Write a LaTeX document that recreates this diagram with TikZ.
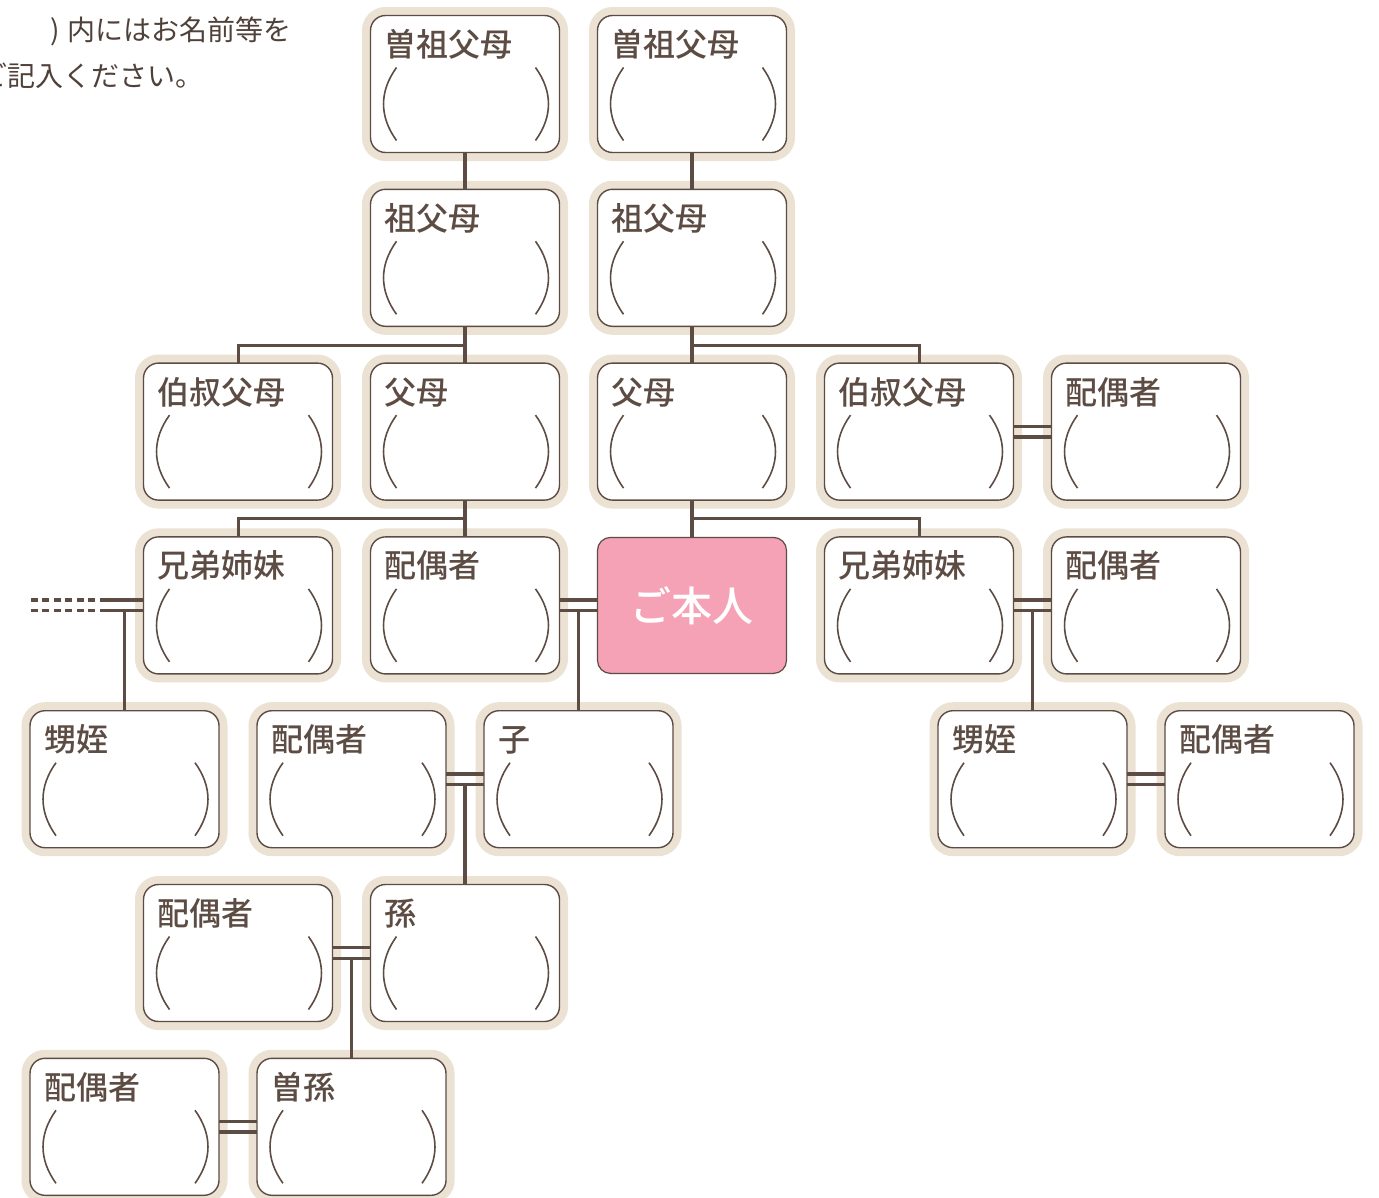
\documentclass[tikz,border=0pt]{standalone}
\usepackage{fontspec}
\setmainfont{Noto Sans CJK JP}
\newfontfamily\jpmedium{Noto Sans CJK JP Medium}
\usepackage{tikz}
\usepackage{xcolor}
\definecolor{treebrown}{RGB}{93,76,67}
\definecolor{ringbeige}{RGB}{235,226,212}
\definecolor{selfpink}{RGB}{245,162,182}
\tikzset{
  member/.style={draw=treebrown, line width=1.4pt, fill=white, rounded corners=15pt,
    minimum width=189pt, minimum height=137pt, inner sep=0pt, outer sep=0pt,
    preaction={draw=ringbeige, line width=17pt},
    path picture={
      \draw[treebrown, line width=1.6pt]
        ([xshift=26pt,yshift=-52pt]path picture bounding box.north west)
        .. controls ([xshift=8.7pt,yshift=-76pt]path picture bounding box.north west)
        and ([xshift=8.7pt,yshift=-101pt]path picture bounding box.north west)
        .. ([xshift=26pt,yshift=-125pt]path picture bounding box.north west);
      \draw[treebrown, line width=1.6pt]
        ([xshift=-24pt,yshift=-52pt]path picture bounding box.north east)
        .. controls ([xshift=-6.7pt,yshift=-76pt]path picture bounding box.north east)
        and ([xshift=-6.7pt,yshift=-101pt]path picture bounding box.north east)
        .. ([xshift=-24pt,yshift=-125pt]path picture bounding box.north east);
    },
    label={[anchor=base west, xshift=14pt, yshift=-41pt, inner sep=0pt, text=treebrown,
      font=\jpmedium\fontsize{32pt}{36pt}\selectfont]north west:#1}},
  selfbox/.style={draw=treebrown, line width=1.2pt, fill=selfpink, rounded corners=13pt,
    minimum width=189pt, minimum height=136pt, inner sep=0pt, outer sep=0pt,
    text=white, font=\jpmedium\fontsize{41pt}{45pt}\selectfont},
  tree/.style={draw=treebrown, line width=3.6pt},
  note/.style={inner sep=0pt, text=treebrown!85!black, font=\fontsize{28pt}{32pt}\selectfont}
}
\begin{document}
\begin{tikzpicture}[x=1pt, y=-1pt]
\path[use as bounding box, fill=white] (0,0) rectangle (1379,1197);

% Note
\node[note, anchor=base east] (note1) at (292,40) {)\hspace{8pt}内にはお名前等を};
\node[note, anchor=base west] (note2) at (-21,86) {ご記入ください。};

% Great-grandparents and grandparents
\node[member=曽祖父母] (gg1) at (465,84) {};
\node[member=曽祖父母] (gg2) at (692,84) {};
\node[member=祖父母] (gp1) at (465,257.8) {};
\node[member=祖父母] (gp2) at (692,257.8) {};

% Parents
\node[member=伯叔父母] (au1) at (238,431.6) {};
\node[member=父母] (pa1) at (465,431.6) {};
\node[member=父母] (pa2) at (692,431.6) {};
\node[member=伯叔父母] (au2) at (919,431.6) {};
\node[member=配偶者] (au2sp) at (1146,431.6) {};

% Own generation
\node[member=兄弟姉妹] (sib1) at (238,605.4) {};
\node[member=配偶者] (sp) at (465,605.4) {};
\node[selfbox] (self) at (692,605.4) {ご本人};
\node[member=兄弟姉妹] (sib2) at (919,605.4) {};
\node[member=配偶者] (sib2sp) at (1146,605.4) {};

% Children
\node[member=甥姪] (nep1) at (124.5,779.2) {};
\node[member=配偶者] (chsp) at (351.5,779.2) {};
\node[member=子] (child) at (578.5,779.2) {};
\node[member=甥姪] (nep2) at (1032.5,779.2) {};
\node[member=配偶者] (nep2sp) at (1259.5,779.2) {};

% Grandchildren
\node[member=配偶者] (gcsp) at (238,953) {};
\node[member=孫] (gc) at (465,953) {};
\node[member=配偶者] (ggcsp) at (124.5,1126.8) {};
\node[member=曽孫] (ggc) at (351.5,1126.8) {};

% Descent lines
\draw[tree] (gg1.south) -- (gp1.north);
\draw[tree] (gg2.south) -- (gp2.north);
\draw[tree] (gp1.south) -- (pa1.north);
\draw[tree, line width=3pt] (au1.north) |- ([yshift=18pt]pa1.north);
\draw[tree] (gp2.south) -- (pa2.north);
\draw[tree, line width=3pt] (au2.north) |- ([yshift=18pt]pa2.north);
\draw[tree] (pa1.south) -- (sp.north);
\draw[tree, line width=3pt] (sib1.north) |- ([yshift=18.5pt]sp.north);
\draw[tree] (pa2.south) -- (self.north);
\draw[tree, line width=3pt] (sib2.north) |- ([yshift=18.5pt]self.north);

% Marriage lines
\foreach \a/\b in {au2/au2sp, sp/self, sib2/sib2sp, chsp/child, nep2/nep2sp, gcsp/gc, ggcsp/ggc} {
  \draw[tree, line width=3.3pt] ([yshift=5.3pt]\a.east) -- ([yshift=5.3pt]\b.west);
  \draw[tree, line width=3.3pt] ([yshift=-5.3pt]\a.east) -- ([yshift=-5.3pt]\b.west);
}
\coordinate (w1) at ([yshift=-5.3pt]sp.east);
\coordinate (w2) at ([yshift=-5.3pt]sib2.east);
\coordinate (w3) at ([yshift=-5.3pt]chsp.east);
\coordinate (w4) at ([yshift=-5.3pt]gcsp.east);
\coordinate (w0) at ([yshift=-5.3pt]sib1.west);
\draw[tree] (child.north) -- (child.north |- w1);
\draw[tree] (nep2.north) -- (nep2.north |- w2);
\draw[tree] (gc.north) -- (gc.north |- w3);
\draw[tree] (ggc.north) -- (ggc.north |- w4);

% Sibling's spouse, left
\draw[tree, line width=3.3pt] ([yshift=5.3pt]sib1.west) -- ++(-37,0);
\draw[tree, line width=3.3pt] (w0) -- ++(-37,0);
\draw[tree, line width=3.3pt, dash pattern=on 7pt off 4.5pt] ([yshift=5.3pt,xshift=-37pt]sib1.west) -- ++(-76,0);
\draw[tree, line width=3.3pt, dash pattern=on 7pt off 4.5pt] ([xshift=-37pt]w0) -- ++(-76,0);
\draw[tree] (nep1.north) -- (nep1.north |- w0);
\end{tikzpicture}
\end{document}
